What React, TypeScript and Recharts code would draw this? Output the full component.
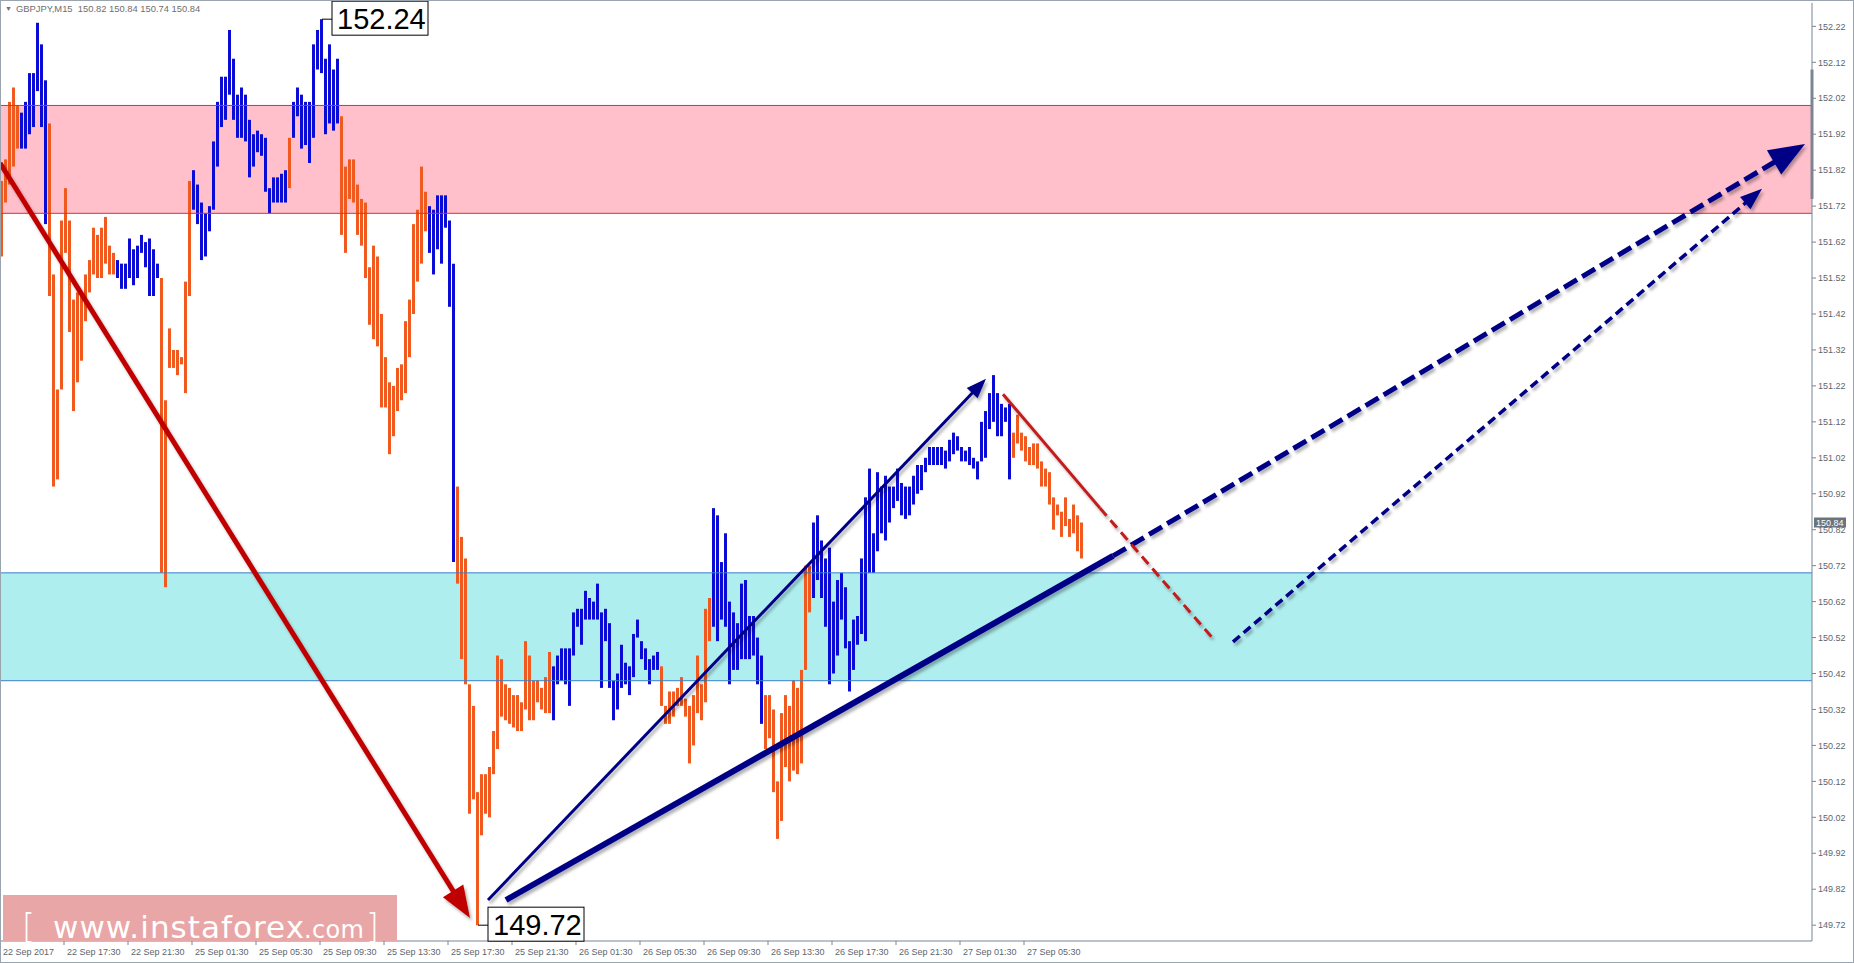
import {
    Bar,
    Cell,
    ComposedChart,
    ReferenceArea,
    ReferenceDot,
    ReferenceLine,
    XAxis,
    YAxis
} from 'recharts'

// GBPJPY M15 bars (high / low per bar)
const highs = [
    151.79, 151.85, 152.01, 152.05, 152.00, 151.98, 152.01, 152.09, 152.09, 152.23,
    152.17, 152.07, 151.95, 151.53, 151.21, 151.68, 151.77, 151.68, 151.46, 151.48,
    151.47, 151.53, 151.57, 151.66, 151.64, 151.66, 151.69, 151.61, 151.59, 151.57,
    151.56, 151.56, 151.63, 151.60, 151.61, 151.64, 151.62, 151.63, 151.60, 151.56,
    151.52, 151.18, 151.38, 151.32, 151.32, 151.30, 151.51, 151.79, 151.82, 151.78,
    151.73, 151.70, 151.72, 151.90, 152.01, 152.08, 152.08, 152.21, 152.13, 152.03,
    152.05, 152.03, 151.96, 151.92, 151.93, 151.92, 151.91, 151.77, 151.80, 151.80,
    151.81, 151.82, 151.91, 152.01, 152.05, 152.03, 152.01, 152.01, 152.17, 152.21,
    152.24, 152.13, 152.17, 152.10, 152.13, 151.97, 151.83, 151.85, 151.85, 151.78,
    151.74, 151.73, 151.55, 151.61, 151.58, 151.42, 151.30, 151.23, 151.22, 151.27,
    151.28, 151.40, 151.46, 151.67, 151.71, 151.83, 151.76, 151.72, 151.71, 151.75,
    151.75, 151.75, 151.68, 151.56, 150.94, 150.80, 150.74, 150.39, 150.33, 150.09,
    150.14, 150.14, 150.16, 150.26, 150.47, 150.46, 150.39, 150.38, 150.36, 150.36,
    150.34, 150.51, 150.47, 150.40, 150.40, 150.38, 150.41, 150.48, 150.44, 150.47,
    150.49, 150.49, 150.49, 150.59, 150.60, 150.60, 150.65, 150.63, 150.62, 150.67,
    150.59, 150.60, 150.56, 150.40, 150.42, 150.50, 150.45, 150.44, 150.53, 150.57,
    150.51, 150.49, 150.46, 150.47, 150.48, 150.44, 150.33, 150.37, 150.37, 150.38,
    150.41, 150.35, 150.33, 150.36, 150.47, 150.39, 150.60, 150.63, 150.88, 150.86,
    150.73, 150.81, 150.62, 150.59, 150.56, 150.67, 150.68, 150.58, 150.58, 150.52,
    150.47, 150.36, 150.36, 150.32, 150.12, 150.31, 150.36, 150.33, 150.40, 150.38,
    150.43, 150.72, 150.72, 150.84, 150.86, 150.79, 150.74, 150.77, 150.62, 150.68,
    150.70, 150.66, 150.51, 150.57, 150.58, 150.74, 150.91, 150.99, 150.81, 150.98,
    150.94, 150.97, 150.94, 150.94, 150.99, 150.95, 150.94, 150.94, 150.97, 151.00,
    151.00, 151.02, 151.05, 151.05, 151.05, 151.05, 151.04, 151.07, 151.09, 151.08,
    151.05, 151.04, 151.05, 151.02, 151.01, 151.12, 151.15, 151.20, 151.25, 151.20,
    151.17, 151.16, 151.17, 151.09, 151.14, 151.09, 151.08, 151.05, 151.06, 151.06,
    151.01, 150.99, 150.98, 150.91, 150.89, 150.87, 150.91, 150.85, 150.89, 150.86,
    150.84
]

const lows = [
    151.58, 151.73, 151.78, 151.83, 151.88, 151.88, 151.88, 151.92, 151.94, 152.04,
    151.94, 151.67, 151.47, 150.94, 150.96, 151.21, 151.59, 151.37, 151.15, 151.23,
    151.29, 151.40, 151.48, 151.53, 151.52, 151.52, 151.56, 151.53, 151.53, 151.52,
    151.49, 151.49, 151.52, 151.50, 151.52, 151.59, 151.55, 151.47, 151.47, 151.52,
    150.70, 150.66, 151.27, 151.27, 151.25, 151.28, 151.20, 151.47, 151.71, 151.67,
    151.57, 151.58, 151.65, 151.71, 151.83, 151.94, 151.96, 152.03, 151.96, 151.91,
    151.91, 151.90, 151.80, 151.83, 151.87, 151.86, 151.76, 151.70, 151.73, 151.73,
    151.73, 151.73, 151.77, 151.91, 151.97, 151.88, 151.89, 151.84, 151.91, 152.10,
    152.09, 151.92, 151.95, 151.93, 151.95, 151.64, 151.59, 151.74, 151.73, 151.64,
    151.61, 151.52, 151.39, 151.35, 151.33, 151.16, 151.16, 151.03, 151.08, 151.15,
    151.18, 151.20, 151.30, 151.42, 151.51, 151.56, 151.65, 151.59, 151.53, 151.60,
    151.56, 151.66, 151.44, 150.73, 150.67, 150.46, 150.39, 150.03, 150.07, 149.72,
    149.97, 150.03, 150.02, 150.14, 150.21, 150.30, 150.29, 150.28, 150.27, 150.26,
    150.26, 150.32, 150.29, 150.29, 150.34, 150.32, 150.31, 150.31, 150.29, 150.39,
    150.40, 150.39, 150.33, 150.47, 150.55, 150.50, 150.57, 150.57, 150.57, 150.57,
    150.38, 150.51, 150.38, 150.29, 150.32, 150.38, 150.39, 150.36, 150.41, 150.52,
    150.46, 150.43, 150.39, 150.43, 150.43, 150.33, 150.28, 150.28, 150.30, 150.33,
    150.33, 150.30, 150.17, 150.22, 150.31, 150.29, 150.34, 150.51, 150.55, 150.51,
    150.57, 150.55, 150.39, 150.43, 150.43, 150.46, 150.46, 150.46, 150.47, 150.39,
    150.28, 150.21, 150.24, 150.09, 149.96, 150.01, 150.16, 150.12, 150.15, 150.14,
    150.17, 150.43, 150.59, 150.63, 150.68, 150.63, 150.55, 150.39, 150.42, 150.47,
    150.57, 150.49, 150.37, 150.43, 150.50, 150.53, 150.51, 150.70, 150.70, 150.76,
    150.81, 150.79, 150.84, 150.88, 150.90, 150.86, 150.85, 150.86, 150.89, 150.92,
    150.93, 150.98, 151.00, 151.00, 151.00, 151.00, 150.99, 151.01, 151.03, 151.04,
    151.01, 151.01, 151.00, 150.99, 150.96, 151.01, 151.02, 151.10, 151.12, 151.08,
    151.08, 151.12, 150.96, 151.02, 151.06, 151.04, 151.01, 151.00, 151.00, 150.99,
    150.94, 150.94, 150.89, 150.82, 150.86, 150.80, 150.83, 150.80, 150.81, 150.76,
    150.74
]

// swing direction of each run of bars (how the terminal colours them)
const swingRuns: [string, number][] = [
    ['down', 5], ['up', 7], ['down', 17], ['up', 11], ['down', 8], ['up', 24],
    ['down', 1], ['up', 12], ['down', 22], ['up', 7], ['down', 24], ['up', 27],
    ['down', 13], ['up', 13], ['down', 12], ['up', 50], ['down', 18]
]

const timeLabels = [
    '22 Sep 2017', '22 Sep 17:30', '22 Sep 21:30', '25 Sep 01:30', '25 Sep 05:30',
    '25 Sep 09:30', '25 Sep 13:30', '25 Sep 17:30', '25 Sep 21:30', '26 Sep 01:30',
    '26 Sep 05:30', '26 Sep 09:30', '26 Sep 13:30', '26 Sep 17:30', '26 Sep 21:30',
    '27 Sep 01:30', '27 Sep 05:30'
]

const priceTicks = [
    152.22, 152.12, 152.02, 151.92, 151.82, 151.72, 151.62, 151.52, 151.42, 151.32,
    151.22, 151.12, 151.02, 150.92, 150.82, 150.72, 150.62, 150.52, 150.42, 150.32,
    150.22, 150.12, 150.02, 149.92, 149.82, 149.72
]

const resistanceZone = [151.70, 152.00]
const supportZone = [150.40, 150.70]
const extremeHigh = { bar: 80, price: 152.24 }
const extremeLow = { bar: 119, price: 149.72 }
const lastPrice = 150.84

// wave mark-up drawn on the chart, in (bar, price)
const waveA = [{ x: -0.5, y: 151.84 }, { x: 117, y: 149.74 }]
const waveB = [{ x: 121.5, y: 149.79 }, { x: 246, y: 151.24 }]
const supportLine = [{ x: 126, y: 149.79 }, { x: 277.75, y: 150.747 }]
const forecastMain = [{ x: 277.75, y: 150.747 }, { x: 450.75, y: 151.893 }]
const waveC = [{ x: 250.25, y: 151.197 }, { x: 274.5, y: 150.88 }]
const waveCForecast = [{ x: 274.5, y: 150.88 }, { x: 303, y: 150.514 }]
const forecastAlt = [{ x: 307.75, y: 150.508 }, { x: 440, y: 151.768 }]

const UP = '#0b0bd6'
const DOWN = '#f05a1e'
const NAVY = '#000086'

const barColors = swingRuns.flatMap(([dir, n]) => Array(n).fill(dir === 'up' ? UP : DOWN))
const chartData = highs.map((h, i) => ({ i, range: [lows[i], h] }))

let shadowSeq = 0

function Stroke(props: any) {
    const { x1, y1, x2, y2, color, width, dash, head, headW } = props
    const id = `shd${shadowSeq++}`
    const dx = x2 - x1
    const dy = y2 - y1
    const len = Math.hypot(dx, dy) || 1
    const ux = dx / len
    const uy = dy / len
    const endX = head ? x2 - ux * head * 0.7 : x2
    const endY = head ? y2 - uy * head * 0.7 : y2
    const bx = x2 - ux * (head || 0)
    const by = y2 - uy * (head || 0)
    const nx = -uy * (headW || 0) / 2
    const ny = ux * (headW || 0) / 2
    return (
        <g filter={`url(#${id})`}>
            <defs>
                <filter id={id} filterUnits="userSpaceOnUse" x={0} y={0} width={1854} height={963}>
                    <feDropShadow dx={2} dy={3} stdDeviation={1.6} floodColor="#000" floodOpacity={0.3} />
                </filter>
            </defs>
            <line x1={x1} y1={y1} x2={endX} y2={endY} stroke={color} strokeWidth={width}
                strokeDasharray={dash} strokeLinecap="butt" />
            {head ? (
                <polygon points={`${x2},${y2} ${bx + nx},${by + ny} ${bx - nx},${by - ny}`} fill={color} />
            ) : null}
        </g>
    )
}

function PriceTag({ cx, cy, text }: any) {
    return (
        <g>
            <line x1={cx} y1={cy} x2={cx + 10} y2={cy} stroke="#000" strokeWidth={1} />
            <rect x={cx + 10} y={cy - 18} width={96} height={34} fill="#fff" stroke="#000" strokeWidth={1} />
            <text x={cx + 15} y={cy + 10} fontSize={29} fontFamily="Liberation Sans, Arial" fill="#000">{text}</text>
        </g>
    )
}

function TimeTick({ x, y, payload }: any) {
    const k = Math.round((payload.value + 0.5) / 16)
    return (
        <text x={x + 3} y={y} dy="0.9em" fontSize={9} fill="#5c6670" fontFamily="Liberation Sans, Arial">
            {timeLabels[k]}
        </text>
    )
}

function LastPriceTag({ x1, x2, y1 }: any) {
    const right = Math.max(x1, x2)
    return (
        <g>
            <rect x={right + 2} y={y1 - 5} width={32} height={10} fill="#6b737d" />
            <text x={right + 4} y={y1 + 3.5} fontSize={9} fill="#fff" fontFamily="Liberation Sans, Arial">
                {lastPrice.toFixed(2)}
            </text>
        </g>
    )
}

const seg = (pts: { x: number, y: number }[]) => [pts[0], pts[1]] as any

export default function App() {
    return (
        <div style={{ position: 'relative', width: 1854, height: 963, background: '#fff', overflow: 'hidden' }}>
            <style>{'body{margin:0}'}</style>
            <ComposedChart width={1854} height={963} data={chartData}
                margin={{ top: 3, right: 0, bottom: 0, left: 0 }}>
                <XAxis
                    dataKey="i"
                    type="number"
                    domain={[-0.5, 452.5]}
                    allowDataOverflow
                    ticks={timeLabels.map((_, k) => k * 16 - 0.5)}
                    interval={0}
                    height={22}
                    stroke="#7a8594"
                    tickSize={4}
                    tick={(p: any) => <TimeTick {...p} />}
                />
                <YAxis
                    orientation="right"
                    type="number"
                    domain={[149.676, 152.285]}
                    allowDataOverflow
                    ticks={priceTicks}
                    interval={0}
                    width={42}
                    stroke="#7a8594"
                    tickSize={4}
                    tickMargin={2}
                    tickFormatter={(v: number) => v.toFixed(2)}
                    tick={{ fontSize: 9, fill: '#5c6670', fontFamily: 'Liberation Sans, Arial' }}
                />
                <ReferenceArea y1={resistanceZone[0]} y2={resistanceZone[1]} fill="#ffc0cb" fillOpacity={1} stroke="none" ifOverflow="visible" />
                <ReferenceArea y1={supportZone[0]} y2={supportZone[1]} fill="#afeeee" fillOpacity={1} stroke="none" ifOverflow="visible" />
                <ReferenceLine y={resistanceZone[0]} stroke="#d23434" strokeWidth={1} />
                <ReferenceLine y={resistanceZone[1]} stroke="#d23434" strokeWidth={1} />
                <ReferenceLine y={supportZone[0]} stroke="#3a7fc8" strokeWidth={1} />
                <ReferenceLine y={supportZone[1]} stroke="#3a7fc8" strokeWidth={1} />
                <Bar dataKey="range" barSize={3} isAnimationActive={false}>
                    {chartData.map((_, i) => <Cell key={i} fill={barColors[i]} />)}
                </Bar>
                <ReferenceLine segment={seg(waveA)} ifOverflow="visible"
                    shape={(p: any) => <Stroke {...p} color="#c00000" width={5} head={32} headW={24} />} />
                <ReferenceLine segment={seg(waveB)} ifOverflow="visible"
                    shape={(p: any) => <Stroke {...p} color={NAVY} width={3} head={20} headW={15} />} />
                <ReferenceLine segment={seg(supportLine)} ifOverflow="visible"
                    shape={(p: any) => <Stroke {...p} color={NAVY} width={6} />} />
                <ReferenceLine segment={seg(forecastMain)} ifOverflow="visible"
                    shape={(p: any) => <Stroke {...p} color={NAVY} width={5} dash="15 6" head={36} headW={28} />} />
                <ReferenceLine segment={seg(waveC)} ifOverflow="visible"
                    shape={(p: any) => <Stroke {...p} color="#c41a1a" width={3} />} />
                <ReferenceLine segment={seg(waveCForecast)} ifOverflow="visible"
                    shape={(p: any) => <Stroke {...p} color="#c41a1a" width={3} dash="10 6" />} />
                <ReferenceLine segment={seg(forecastAlt)} ifOverflow="visible"
                    shape={(p: any) => <Stroke {...p} color={NAVY} width={3.5} dash="9 5" head={22} headW={16} />} />
                <ReferenceDot x={extremeHigh.bar} y={extremeHigh.price} r={0} ifOverflow="visible"
                    shape={(p: any) => <PriceTag {...p} text={extremeHigh.price.toFixed(2)} />} />
                <ReferenceDot x={extremeLow.bar} y={extremeLow.price} r={0} ifOverflow="visible"
                    shape={(p: any) => <PriceTag {...p} text={extremeLow.price.toFixed(2)} />} />
                <ReferenceLine y={lastPrice} ifOverflow="visible" shape={(p: any) => <LastPriceTag {...p} />} />
                <ReferenceLine segment={[{ x: 452.5, y: 152.10 }, { x: 452.5, y: 151.74 }]} ifOverflow="visible"
                    stroke="#7d8791" strokeWidth={3} />
            </ComposedChart>

            {/* terminal header */}
            <div style={{
                position: 'absolute', left: 5, top: 3, fontFamily: 'Liberation Sans, Arial', fontSize: 9.4,
                color: '#6e6e6e', whiteSpace: 'pre', display: 'flex', alignItems: 'center'
            }}>
                <span style={{ fontSize: 7, marginRight: 4, color: '#707070' }}>▼</span>
                GBPJPY,M15  150.82 150.84 150.74 150.84
            </div>

            {/* broker watermark */}
            <svg style={{ position: 'absolute', left: 0, top: 0 }} width={1854} height={963}>
                <rect x={3} y={895} width={394} height={46} fill="#e8a6a6" />
                <text x={22} y={938} fontSize={33} fill="#fff" fontFamily="DejaVu Sans" fontWeight={300}>[</text>
                <text x={53} y={938} fontSize={31} fill="#fff" fontFamily="DejaVu Sans" textLength={251}>www.instaforex</text>
                <text x={304} y={938} fontSize={24} fill="#fff" fontFamily="DejaVu Sans" textLength={60}>.com</text>
                <text x={366} y={938} fontSize={33} fill="#fff" fontFamily="DejaVu Sans" fontWeight={300}>]</text>
            </svg>

            {/* window frame */}
            <div style={{
                position: 'absolute', left: 0, top: 0, width: 1854, height: 963, boxSizing: 'border-box',
                border: '1px solid #9aa4ae', pointerEvents: 'none'
            }} />
        </div>
    )
}
